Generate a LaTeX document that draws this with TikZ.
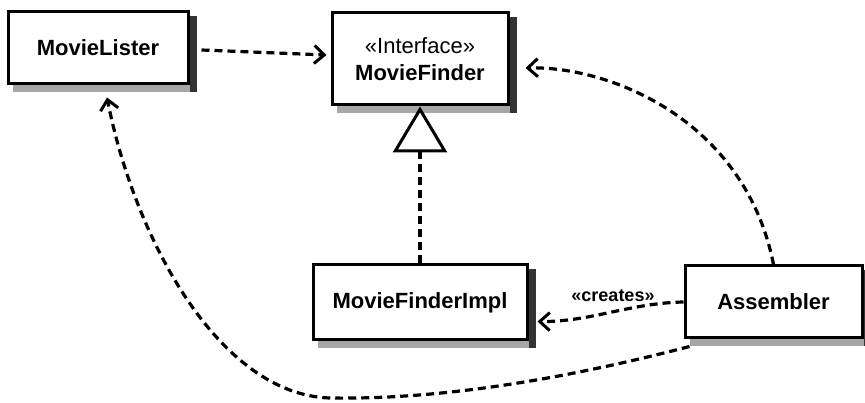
\documentclass[tikz,border=0pt]{standalone}
\usepackage{fontspec}
\setmainfont{Liberation Sans}
\usetikzlibrary{arrows.meta}
\newcommand\boxshade[1]{%
  \fill[shadowB] ([shift={(6,0)}]#1.south west) rectangle ([shift={(7,7)}]#1.south east);
  \fill[shadowR] ([shift={(0,6)}]#1.north east) rectangle ([shift={(7,7)}]#1.south east);
}
\begin{document}
\begin{tikzpicture}[x=1pt,y=-1pt,
  umlbox/.style={draw=black, line width=3pt, fill=white, rectangle, inner sep=0pt,
    font=\fontsize{22}{27}\selectfont\bfseries, align=center},
  shadowR/.style={fill=black!80},
  shadowB/.style={fill=black!35},
  dep/.style={line width=3.2pt, dash pattern=on 8pt off 5pt,
    -{Straight Barb[length=10pt,width=18pt,line width=3pt]}},
  realiz/.style={line width=3.2pt, dash pattern=on 8pt off 5pt,
    -{Triangle[open,length=46pt,width=54pt,line width=3pt]}},
  lbl/.style={font=\fontsize{18}{20}\selectfont\bfseries, inner sep=0pt},
]
\useasboundingbox (0,0) rectangle (865,403);

\node[umlbox, minimum width=180pt, minimum height=72pt] (lister) at (98,48) {MovieLister};
\boxshade{lister}
\node[umlbox, minimum width=176pt, minimum height=92pt] (finder) at (420,59)
  {{\mdseries «Interface»}\\MovieFinder};
\boxshade{finder}
\node[umlbox, minimum width=214pt, minimum height=75pt] (impl) at (420,302.5) {MovieFinderImpl};
\boxshade{impl}
\node[umlbox, minimum width=177pt, minimum height=72pt] (asm) at (773.5,302) {Assembler};
\boxshade{asm}

% MovieLister -> MovieFinder
\draw[dep] ([shift={(12,2)}]lister.east) -- ([shift={(-4,-4)}]finder.west);
% realization
\draw[realiz] (impl.north) -- (finder.south);
% Assembler -> MovieFinder
\draw[dep] (asm.north) .. controls (745,120) and (610,66) .. ([shift={(16,9)}]finder.east);
% Assembler -> MovieFinderImpl (creates)
\draw[dep] (asm.west) .. controls (630,303) and (590,322) .. ([shift={(9,19)}]impl.east);
\node[lbl] (creates) at (613,296) {«creates»};
% Assembler -> MovieLister
\coordinate (bend) at (330,398);
\draw[dep] ([shift={(6,7)}]asm.south west) .. controls (580,375) and (450,400) .. (bend)
  .. controls (220,395) and (135,240) .. ([shift={(9,12)}]lister.south);
\end{tikzpicture}
\end{document}
